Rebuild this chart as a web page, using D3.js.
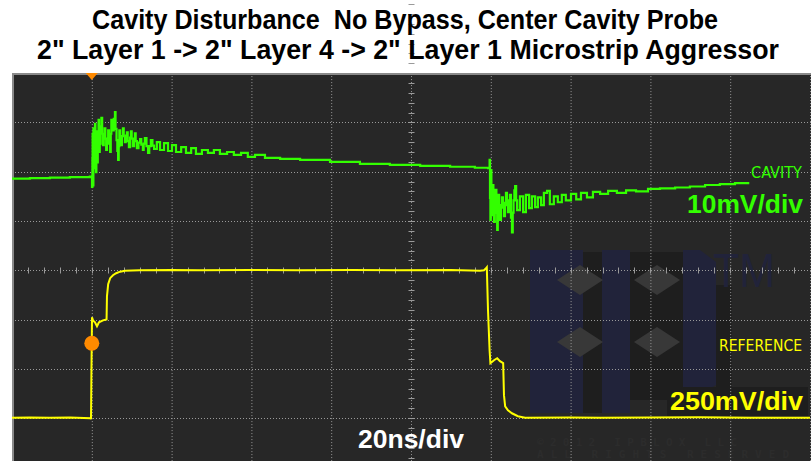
<!DOCTYPE html>
<html>
<head>
<meta charset="utf-8">
<script src="https://cdn.jsdelivr.net/npm/d3@7"></script>
<style>
  body { margin: 0; background: #fff; }
  svg { display: block; }
  text { white-space: pre; }
</style>
</head>
<body>
<svg id="chart" width="811" height="461"></svg>
<script>
// scope settings
var nsPerDiv = 20
var cavityMvPerDiv = 10
var refMvPerDiv = 250
var cavityOffsetDiv = 1.87
var refOffsetDiv = -3
var triggerNs = 20
var triggerMv = 380

var titleLines = [
    "Cavity Disturbance  No Bypass, Center Cavity Probe",
    "2\" Layer 1 -> 2\" Layer 4 -> 2\" Layer 1 Microstrip Aggressor"
]

// cavity probe, [ns, mV]
var cavityTrace = [
    [0, -0.1], [4.5, 0], [9.5, 0.1], [14.5, 0.2], [19.5, 0.3], [19.9, 0.2],
    [20.05, -1.8], [20.15, 4.0], [20.2, 9.0], [20.25, -0.5], [20.3, 6.0], [20.35, -1.5],
    [20.4, 10.1], [20.5, 2.0], [20.6, 9.0], [20.7, 3.7], [20.8, 11.0], [20.9, 6.0],
    [21.0, 9.5], [21.05, 1.2], [21.15, 7.5], [21.2, 8.7], [21.3, 4.5], [21.4, 3.2],
    [21.5, 8.0], [21.6, 9.5], [21.7, 11.8], [21.8, 8.0], [21.9, 5.3], [22.0, 8.5],
    [22.1, 7.0], [22.2, 10.5], [22.3, 9.0], [22.4, 12.2], [22.6, 9.0], [22.8, 6.7],
    [23.0, 8.5], [23.2, 10.1], [23.4, 8.0], [23.6, 5.7], [23.8, 7.5], [24.1, 9.7],
    [24.3, 7.0], [24.6, 5.3], [24.75, 9.0], [24.9, 11.8], [25.1, 10.5], [25.3, 9.7],
    [25.5, 12.0], [25.8, 13.4], [25.95, 10.0], [26.2, 7.7], [26.4, 5.5], [26.6, 3.7],
    [26.75, 6.5], [26.9, 9.7], [27.1, 8.0], [27.3, 6.7], [27.55, 8.5], [27.8, 10.1],
    [28.0, 8.5], [28.3, 7.3], [28.5, 8.6], [28.8, 9.3], [29.0, 7.5], [29.3, 6.3],
    [29.6, 8.2], [29.8, 9.5], [30.0, 8.0], [30.3, 6.5], [30.6, 7.8], [30.8, 9.1],
    [31.0, 7.5], [31.3, 6.1], [31.7, 7.2], [32.1, 7.9], [32.4, 6.8], [32.8, 5.7],
    [33.0, 7.0], [33.3, 8.1], [33.7, 6.5], [34.1, 5.1], [34.4, 6.5], [34.8, 7.7],
    [35.2, 6.6], [35.6, 5.9], [36.3, 7.3], [37.1, 5.7], [38.1, 7.1],
    [39.1, 5.5], [40.1, 6.7], [41.1, 5.3], [42.4, 6.3], [43.6, 5.1], [44.9, 6.1],
    [46.1, 4.9], [47.6, 5.7], [49.1, 5.1], [50.6, 5.7], [52.1, 4.9], [53.9, 5.3],
    [55.6, 4.7], [57.4, 5.1], [59.1, 4.3], [60.9, 4.7], [63.4, 4.1], [67.2, 3.9],
    [72.2, 3.7], [79.7, 3.3], [87.2, 2.9], [94.7, 2.7], [102.3, 2.5], [109.8, 2.3],
    [116.0, 2.1], [119.3, 2.0], [119.7, 3.7], [119.8, -4.0], [119.9, -8.5], [120.0, -3.0],
    [120.05, 1.6], [120.15, -4.5], [120.3, -7.5], [120.4, -3.5], [120.55, -1.4], [120.65, -6.0],
    [120.8, -8.9], [121.0, -5.0], [121.2, -2.4], [121.4, -7.0], [121.6, -10.5], [121.75, -6.5],
    [121.9, -3.4], [122.1, -6.0], [122.3, -8.5], [122.55, -5.5], [122.8, -3.9], [123.05, -6.0],
    [123.3, -7.7], [123.55, -5.0], [123.8, -3.0], [124.05, -5.5], [124.3, -6.9], [124.55, -4.5],
    [124.8, -3.4], [125.05, -8.0], [125.3, -11.0], [125.5, -7.0], [125.7, -4.5], [125.9, -2.5],
    [126.1, -1.6], [126.35, -4.5], [126.6, -6.5], [127.3, -3.7], [128.1, -6.9], [128.8, -3.4],
    [129.6, -6.1], [130.3, -3.7], [131.1, -5.9], [131.8, -3.9], [132.6, -5.5], [133.3, -3.0],
    [134.1, -2.6], [134.8, -5.3], [135.8, -3.7], [136.8, -4.9], [137.8, -3.4], [138.8, -4.5],
    [140.1, -3.2], [141.4, -4.3], [142.6, -3.0], [144.1, -3.9], [145.6, -2.8], [147.4, -3.2],
    [149.4, -2.6], [151.6, -3.0], [153.9, -2.5], [156.4, -2.7], [159.4, -2.2], [162.4, -2.1],
    [166.2, -1.9], [169.9, -1.7], [173.7, -1.4], [177.4, -1.2], [181.2, -1.0], [184.5, -0.8]
]

// reference aggressor, [ns, mV]
var refTrace = [
    [0, 2], [4.5, 4], [9.5, 2], [14.5, 4], [19.7, 0], [19.8, -5], [19.9, 218],
    [20.05, 512], [20.3, 496], [20.8, 486], [21.3, 466], [21.8, 486], [22.8, 496],
    [23.7, 501], [23.8, 618], [24.1, 679], [24.6, 710], [25.3, 725], [26.1, 735],
    [27.1, 743], [28.3, 748], [32, 750], [40, 752], [47, 750], [60, 752], [72, 750],
    [85, 752], [97, 750], [110, 751], [117.3, 748], [118.3, 750], [118.8, 760],
    [119, 765], [119.3, 547], [119.7, 344], [119.9, 279], [120.8, 294], [121.6, 304],
    [122.3, 289], [123.1, 279], [123.3, 117], [123.6, 60], [124.3, 40], [125.3, 25],
    [126.8, 10], [128.6, 2], [140, 4], [147.4, 2], [160, 4], [172.4, 5], [185, 2], [200, 2]
]

var svg = d3.select("#chart")

var x = d3.scaleLinear().domain([0, 10 * nsPerDiv]).range([12, 810])
var y = d3.scaleLinear().domain([-4, 4]).range([467.5, 73.1])

// screen
svg.append("rect")
    .attr("x", 12).attr("y", 73)
    .attr("width", 799).attr("height", 388)
    .attr("fill", "#272727")

// watermark logo
var logo = svg.append("g").attr("class", "logo")
var navy = "#21233a", shade = "#1e1e1e"
logo.append("rect").attr("x", 530).attr("y", 250).attr("width", 53).attr("height", 163).attr("fill", navy)
logo.append("rect").attr("x", 583).attr("y", 252).attr("width", 19).attr("height", 161).attr("fill", shade)
logo.append("rect").attr("x", 602).attr("y", 250).attr("width", 28).attr("height", 163).attr("fill", navy)
logo.append("rect").attr("x", 630).attr("y", 252).attr("width", 53).attr("height", 148).attr("fill", shade)
logo.append("path").attr("d", "M683,250 L700,250 L716,262 L716,385 L700,395 L683,395 Z").attr("fill", navy)
logo.append("rect").attr("x", 716).attr("y", 285).attr("width", 16).attr("height", 110).attr("fill", shade)
logo.append("rect").attr("x", 667).attr("y", 387).attr("width", 141).attr("height", 29).attr("fill", shade)
var diamonds = [[580, 280], [657, 280], [580, 342], [657, 342]]
logo.selectAll(".dia").data(diamonds).enter().append("path")
    .attr("class", "dia")
    .attr("d", (d) => "M" + (d[0] - 23) + "," + d[1] + " L" + d[0] + "," + (d[1] - 15) +
        " L" + (d[0] + 23) + "," + d[1] + " L" + d[0] + "," + (d[1] + 15) + " Z")
    .attr("fill", "#383838")
logo.append("text").attr("x", 744).attr("y", 287)
    .attr("text-anchor", "middle")
    .attr("font-family", "Liberation Sans, Arial, sans-serif")
    .attr("font-size", 48).attr("textLength", 62).attr("lengthAdjust", "spacingAndGlyphs")
    .attr("fill", navy).text("TM")
logo.append("text").attr("x", 537).attr("y", 446)
    .attr("font-family", "DejaVu Sans Mono, monospace").attr("font-weight", "bold")
    .attr("font-size", 11).attr("textLength", 200).attr("fill", "#2c2c2c")
    .text("©2012 IPBLOX LLC")
logo.append("text").attr("x", 537).attr("y", 458)
    .attr("font-family", "DejaVu Sans Mono, monospace").attr("font-weight", "bold")
    .attr("font-size", 11).attr("textLength", 252).attr("fill", "#2c2c2c")
    .text("ALL RIGHTS RESERVED")

// graticule
var grid = svg.append("g").attr("stroke", "#9a9a9a").attr("stroke-width", 1)
grid.selectAll(".vline").data(d3.range(1, 11)).enter().append("line")
    .attr("x1", (d) => x(d * nsPerDiv) + 0.5).attr("x2", (d) => x(d * nsPerDiv) + 0.5)
    .attr("y1", y(4)).attr("y2", 461)
    .attr("stroke-dasharray", "1,2")
grid.selectAll(".hline").data(d3.range(-3, 4)).enter().append("line")
    .attr("x1", 12).attr("x2", 811)
    .attr("y1", (d) => Math.round(y(d)) + 0.5).attr("y2", (d) => Math.round(y(d)) + 0.5)
    .attr("stroke-dasharray", "1,2")

// minor ticks on the centre lines
var cx = x(5 * nsPerDiv) + 0.5, cy = Math.round(y(0)) + 0.5
grid.selectAll(".htick").data(d3.range(1, 50)).enter().append("line")
    .attr("x1", (d) => Math.round(x(d * nsPerDiv / 5)) + 0.5)
    .attr("x2", (d) => Math.round(x(d * nsPerDiv / 5)) + 0.5)
    .attr("y1", cy - 3).attr("y2", cy + 3)
grid.selectAll(".vtick").data(d3.range(-19, 40)).enter().append("line")
    .attr("x1", cx - 3).attr("x2", cx + 3)
    .attr("y1", (d) => Math.round(y(d / 5)) + 0.5)
    .attr("y2", (d) => Math.round(y(d / 5)) + 0.5)

// frame
svg.append("line").attr("x1", 13).attr("x2", 13).attr("y1", 73).attr("y2", 461)
    .attr("stroke", "#8a8a8a").attr("stroke-width", 2)
svg.append("line").attr("x1", 12).attr("x2", 811).attr("y1", 74).attr("y2", 74)
    .attr("stroke", "#8a8a8a").attr("stroke-width", 2)

// traces
var cavityLine = d3.line()
    .x((d) => x(d[0]))
    .y((d) => y(cavityOffsetDiv + d[1] / cavityMvPerDiv))
    .curve(d3.curveStepAfter)
var refLine = d3.line()
    .x((d) => x(d[0]))
    .y((d) => y(refOffsetDiv + d[1] / refMvPerDiv))

svg.append("path").datum(refTrace).attr("d", refLine)
    .attr("fill", "none").attr("stroke", "#ffff00").attr("stroke-width", 2)
svg.append("path").datum(cavityTrace).attr("d", cavityLine)
    .attr("fill", "none").attr("stroke", "#33ff00").attr("stroke-width", 2.2)

// trigger markers
var tx = x(triggerNs)
svg.append("path")
    .attr("d", "M" + (tx - 6) + "," + 73 + " L" + (tx + 6) + "," + 73 + " L" + tx + "," + 80 + " Z")
    .attr("fill", "#ff8a00")
svg.append("circle")
    .attr("cx", tx).attr("cy", y(refOffsetDiv + triggerMv / refMvPerDiv)).attr("r", 7.5)
    .attr("fill", "#ff8a00")

// channel labels
var bold = "Liberation Sans, Arial, Helvetica, sans-serif"
var thin = "DejaVu Sans Condensed, DejaVu Sans, sans-serif"
svg.append("text").attr("x", 802).attr("y", 178).attr("text-anchor", "end")
    .attr("font-family", thin).attr("font-size", 15)
    .attr("textLength", 51).attr("lengthAdjust", "spacingAndGlyphs")
    .attr("fill", "#33ff00").text("CAVITY")
svg.append("text").attr("x", 803).attr("y", 213).attr("text-anchor", "end")
    .attr("font-family", bold).attr("font-weight", "bold").attr("font-size", 25)
    .attr("textLength", 116).attr("lengthAdjust", "spacingAndGlyphs")
    .attr("fill", "#33ff00").text(cavityMvPerDiv + "mV/div")
svg.append("text").attr("x", 802).attr("y", 351).attr("text-anchor", "end")
    .attr("font-family", thin).attr("font-size", 15)
    .attr("textLength", 83).attr("lengthAdjust", "spacingAndGlyphs")
    .attr("fill", "#ffff00").text("REFERENCE")
svg.append("text").attr("x", 803).attr("y", 410).attr("text-anchor", "end")
    .attr("font-family", bold).attr("font-weight", "bold").attr("font-size", 26)
    .attr("textLength", 133).attr("lengthAdjust", "spacingAndGlyphs")
    .attr("fill", "#ffff00").text(refMvPerDiv + "mV/div")
svg.append("text").attr("x", 358).attr("y", 448)
    .attr("font-family", bold).attr("font-weight", "bold").attr("font-size", 26)
    .attr("textLength", 106).attr("lengthAdjust", "spacingAndGlyphs")
    .attr("fill", "#ffffff").text(nsPerDiv + "ns/div")

// title
var titleSpan = [[92, 626, 29], [37, 742, 59]]
svg.selectAll(".title").data(titleLines).enter().append("text")
    .attr("class", "title")
    .attr("x", (d, i) => titleSpan[i][0]).attr("y", (d, i) => titleSpan[i][2])
    .attr("font-family", bold).attr("font-weight", "bold").attr("font-size", 27)
    .attr("textLength", (d, i) => titleSpan[i][1]).attr("lengthAdjust", "spacingAndGlyphs")
    .attr("fill", "#000").text((d) => d)
</script>
</body>
</html>
